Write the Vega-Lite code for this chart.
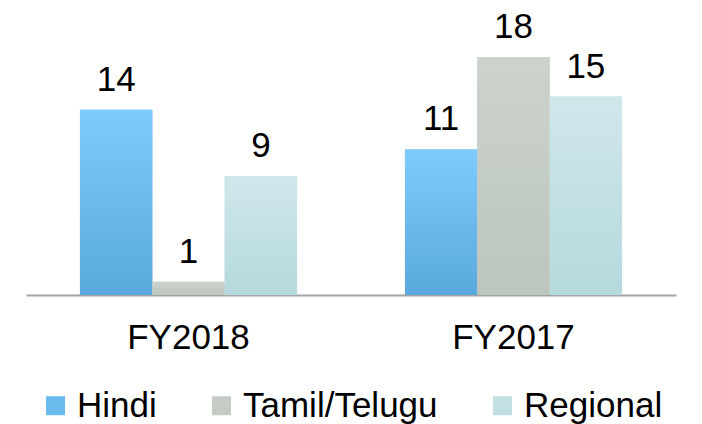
{
  "$schema": "https://vega.github.io/schema/vega-lite/v6.json",
  "width": 650,
  "height": 295,
  "autosize": {"type": "none"},
  "padding": {"left": 26, "top": 0, "right": 26, "bottom": 129},
  "background": "white",
  "data": {
    "values": [
      {"year": "FY2018", "lang": "Hindi", "value": 14},
      {"year": "FY2018", "lang": "Tamil/Telugu", "value": 1},
      {"year": "FY2018", "lang": "Regional", "value": 9},
      {"year": "FY2017", "lang": "Hindi", "value": 11},
      {"year": "FY2017", "lang": "Tamil/Telugu", "value": 18},
      {"year": "FY2017", "lang": "Regional", "value": 15}
    ]
  },
  "encoding": {
    "x": {
      "field": "year",
      "type": "nominal",
      "sort": ["FY2018", "FY2017"],
      "scale": {"paddingInner": 0.332, "paddingOuter": 0.166},
      "axis": {
        "title": null,
        "ticks": false,
        "labelAngle": 0,
        "labelFont": "Liberation Sans",
        "labelFontSize": 35,
        "labelColor": "#000000",
        "labelBaseline": "alphabetic",
        "labelPadding": 53,
        "domainColor": "#a3a3a3",
        "domainWidth": 2,
        "grid": false
      }
    },
    "xOffset": {"field": "lang", "type": "nominal", "sort": ["Hindi", "Tamil/Telugu", "Regional"], "scale": {"domain": ["Hindi", "Tamil/Telugu", "Regional"], "paddingInner": 0, "paddingOuter": 0}},
    "y": {
      "field": "value",
      "type": "quantitative",
      "scale": {"domain": [0, 22.3], "nice": false, "zero": true},
      "axis": null
    }
  },
  "layer": [
    {
      "mark": {"type": "bar"},
      "encoding": {
        "color": {
          "field": "lang",
          "type": "nominal",
          "sort": ["Hindi", "Tamil/Telugu", "Regional"],
          "scale": {
            "domain": ["Hindi", "Tamil/Telugu", "Regional"],
            "range": ["#6bbaec", "#c4ccc5", "#c2e0e4"]
          },
          "legend": {
            "title": null,
            "orient": "none",
            "direction": "horizontal",
            "legendX": 12,
            "legendY": 388,
            "symbolType": "square",
            "symbolSize": 361,
            "symbolStrokeWidth": 0,
            "symbolOpacity": 1,
            "labelFont": "Liberation Sans",
            "labelFontSize": 35,
            "labelColor": "#000000",
            "labelOffset": 4,
            "labelLimit": 400,
            "columnPadding": 47
          }
        }
      }
    },
    {
      "transform": [{"filter": "datum.lang === 'Hindi'"}],
      "mark": {"type": "bar", "color": {"gradient": "linear", "x1": 0, "y1": 0, "x2": 0, "y2": 1, "stops": [{"offset": 0, "color": "#7ecbfc"}, {"offset": 1, "color": "#5aa9dd"}]}}
    },
    {
      "transform": [{"filter": "datum.lang === 'Tamil/Telugu'"}],
      "mark": {"type": "bar", "color": {"gradient": "linear", "x1": 0, "y1": 0, "x2": 0, "y2": 1, "stops": [{"offset": 0, "color": "#ccd3cd"}, {"offset": 1, "color": "#bcc6bd"}]}}
    },
    {
      "transform": [{"filter": "datum.lang === 'Regional'"}],
      "mark": {"type": "bar", "color": {"gradient": "linear", "x1": 0, "y1": 0, "x2": 0, "y2": 1, "stops": [{"offset": 0, "color": "#d0e7ea"}, {"offset": 1, "color": "#b5d9de"}]}}
    },
    {
      "mark": {"type": "text", "font": "Liberation Sans", "fontSize": 35, "color": "#000000", "baseline": "alphabetic", "dy": -19},
      "encoding": {"text": {"field": "value", "type": "quantitative"}}
    }
  ],
  "config": {"view": {"stroke": null}}
}
